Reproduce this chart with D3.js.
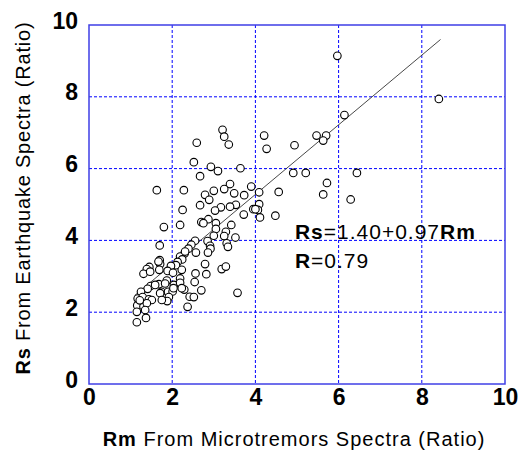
<!DOCTYPE html>
<html>
<head>
<meta charset="utf-8">
<script src="https://cdn.jsdelivr.net/npm/d3@7"></script>
<style>
  body { margin: 0; background: #fff; }
  text { font-family: "Liberation Sans", Arial, sans-serif; }
</style>
</head>
<body>
<div id="chart"></div>
<script>
// Rm (microtremors) vs Rs (earthquake) spectral ratios
var rmVals = [3.21, 3.25, 3.36, 2.59, 4.21, 4.27, 2.52, 2.93, 3.10, 3.64,
  2.67, 1.63, 2.28, 3.39, 3.25, 3.00, 2.79, 3.49, 3.73, 3.90,
  4.09, 4.56, 2.89, 3.53, 3.39, 3.17, 2.67, 3.03, 2.25, 4.09,
  3.95, 4.06, 3.72, 4.11, 4.48, 2.87, 2.70, 2.75, 3.05, 2.19,
  3.42, 1.80, 3.05, 3.29, 3.00, 3.25, 3.52, 2.55, 2.85, 2.91,
  3.31, 3.34, 1.70, 2.46, 2.39, 2.92, 2.86, 2.57, 2.30, 2.19,
  2.24, 2.13, 2.09, 1.97, 1.70, 1.71, 1.45, 1.39, 1.31, 1.47,
  1.69, 1.89, 2.02, 2.23, 2.79, 3.19, 3.29, 2.82, 2.56, 2.19,
  1.87, 1.68, 2.54, 2.04, 2.19, 1.48, 1.41, 1.74, 1.90, 1.25,
  2.70, 2.29, 2.01, 1.17, 1.29, 1.44, 1.51, 1.92, 1.88, 2.42,
  2.52, 3.57, 1.16, 1.31, 1.39, 2.37, 1.15, 1.35, 1.37, 1.15,
  5.97, 8.41, 6.14, 5.47, 5.70, 5.63, 4.94, 4.91, 5.21, 6.44,
  5.72, 5.63, 6.29, 4.00, 1.22, 1.67, 2.31, 1.83, 1.59, 1.71,
  1.75, 2.03, 2.23];
var rsVals = [7.08, 6.89, 6.67, 6.72, 6.92, 6.55, 6.18, 6.05, 5.93, 6.01,
  5.79, 5.40, 5.40, 5.57, 5.43, 5.38, 5.27, 5.31, 5.26, 5.50,
  5.34, 5.35, 5.13, 4.99, 4.94, 4.92, 4.98, 4.83, 4.85, 5.01,
  4.87, 4.85, 4.72, 4.64, 4.69, 4.59, 4.51, 4.48, 4.48, 4.43,
  4.43, 4.37, 4.32, 4.24, 4.13, 4.12, 4.08, 3.99, 3.98, 3.85,
  3.92, 3.82, 3.86, 3.88, 3.77, 3.77, 3.66, 3.66, 3.64, 3.55,
  3.47, 3.40, 3.31, 3.29, 3.45, 3.34, 3.26, 3.20, 3.07, 3.13,
  3.18, 3.15, 3.10, 3.18, 3.34, 3.20, 3.27, 3.06, 3.08, 2.94,
  2.88, 2.78, 2.84, 2.76, 2.82, 2.73, 2.65, 2.57, 2.57, 2.57,
  2.61, 2.63, 2.58, 2.38, 2.42, 2.36, 2.34, 2.42, 2.31, 2.43,
  2.42, 2.54, 2.19, 2.16, 2.25, 2.15, 2.01, 2.06, 1.84, 1.72,
  9.14, 7.94, 7.49, 6.92, 6.92, 6.78, 6.65, 5.88, 5.88, 5.88,
  5.60, 5.28, 5.14, 4.87, 2.33, 3.41, 3.69, 2.80, 2.76, 2.53,
  2.34, 2.67, 2.67];

var xTicks = [0, 2, 4, 6, 8, 10];
var yTicks = [0, 2, 4, 6, 8, 10];

// regression Rs = a + b*Rm, drawn over the Rm span of the data
var fitA = 1.40;
var fitB = 0.97;
var fitRange = [1.1, 8.45];

var points = rmVals.map(function(d, i) { return { rm: d, rs: rsVals[i] }; });

var svgWidth = 521;
var svgHeight = 457;
var margin = { top: 25, right: 16, bottom: 73, left: 89 };
var width = svgWidth - margin.left - margin.right;
var height = svgHeight - margin.top - margin.bottom;

var svg = d3.select("#chart")
  .append("svg")
  .attr("width", svgWidth)
  .attr("height", svgHeight);

var chartGroup = svg.append("g")
  .attr("transform", `translate(${margin.left}, ${margin.top})`);

var xScale = d3.scaleLinear().domain([0, 10]).range([0, width]);
var yScale = d3.scaleLinear().domain([0, 10]).range([height, 0]);

// dotted blue grid
chartGroup.selectAll(".vgrid")
  .data(xTicks.slice(1, -1))
  .enter()
  .append("line")
  .attr("x1", d => xScale(d))
  .attr("x2", d => xScale(d))
  .attr("y1", 0)
  .attr("y2", height)
  .attr("stroke", "#0000ff")
  .attr("stroke-width", 1)
  .attr("stroke-dasharray", "3,2");

chartGroup.selectAll(".hgrid")
  .data(yTicks.slice(1, -1))
  .enter()
  .append("line")
  .attr("x1", 0)
  .attr("x2", width)
  .attr("y1", d => yScale(d))
  .attr("y2", d => yScale(d))
  .attr("stroke", "#0000ff")
  .attr("stroke-width", 1)
  .attr("stroke-dasharray", "3,2");

// frame
chartGroup.append("rect")
  .attr("width", width)
  .attr("height", height)
  .attr("fill", "none")
  .attr("stroke", "#3f3fe6")
  .attr("stroke-width", 1.5);

// axes, labels only
var xAxis = chartGroup.append("g")
  .attr("transform", `translate(0, ${height})`)
  .call(d3.axisBottom(xScale).tickValues(xTicks).tickSize(0).tickPadding(21).tickFormat(d3.format("d")));

var yAxis = chartGroup.append("g")
  .call(d3.axisLeft(yScale).tickValues(yTicks).tickSize(0).tickPadding(11).tickFormat(d3.format("d")));

[xAxis, yAxis].forEach(function(ax) {
  ax.select(".domain").remove();
  ax.selectAll("text")
    .attr("font-family", "'Liberation Sans', Arial, sans-serif")
    .attr("font-size", "23px")
    .attr("font-weight", "bold")
    .attr("fill", "#000");
});
xAxis.selectAll("text").attr("dy", 0).attr("y", 21);
yAxis.selectAll("text").attr("dy", 3);

// regression line
chartGroup.append("line")
  .attr("x1", xScale(fitRange[0]))
  .attr("y1", yScale(fitA + fitB * fitRange[0]))
  .attr("x2", xScale(fitRange[1]))
  .attr("y2", yScale(fitA + fitB * fitRange[1]))
  .attr("stroke", "#333")
  .attr("stroke-width", 0.9);

// open circles
chartGroup.selectAll("circle")
  .data(points)
  .enter()
  .append("circle")
  .attr("cx", d => xScale(d.rm))
  .attr("cy", d => yScale(d.rs))
  .attr("r", 3.8)
  .attr("fill", "#fff")
  .attr("stroke", "#000")
  .attr("stroke-width", 1.1);

// equation text
var eq = chartGroup.append("text")
  .attr("x", xScale(4.95))
  .attr("y", yScale(4.05))
  .attr("font-size", "21px")
  .attr("letter-spacing", "1px");
eq.append("tspan").attr("font-weight", "bold").text("Rs");
eq.append("tspan").text("=1.40+0.97");
eq.append("tspan").attr("font-weight", "bold").text("Rm");

var rText = chartGroup.append("text")
  .attr("x", xScale(4.95))
  .attr("y", yScale(3.22))
  .attr("font-size", "21px")
  .attr("letter-spacing", "1px");
rText.append("tspan").attr("font-weight", "bold").text("R");
rText.append("tspan").text("=0.79");

// axis titles
var xTitle = svg.append("text")
  .attr("x", 294)
  .attr("y", 446)
  .attr("text-anchor", "middle")
  .attr("font-size", "20px")
  .attr("letter-spacing", "1px");
xTitle.append("tspan").attr("font-weight", "bold").text("Rm");
xTitle.append("tspan").text(" From Microtremors Spectra (Ratio)");

var yTitle = svg.append("text")
  .attr("transform", "translate(30, 198) rotate(-90)")
  .attr("text-anchor", "middle")
  .attr("font-size", "20px")
  .attr("letter-spacing", "0.8px");
yTitle.append("tspan").attr("font-weight", "bold").text("Rs");
yTitle.append("tspan").text(" From Earthquake Spectra (Ratio)");
</script>
</body>
</html>
